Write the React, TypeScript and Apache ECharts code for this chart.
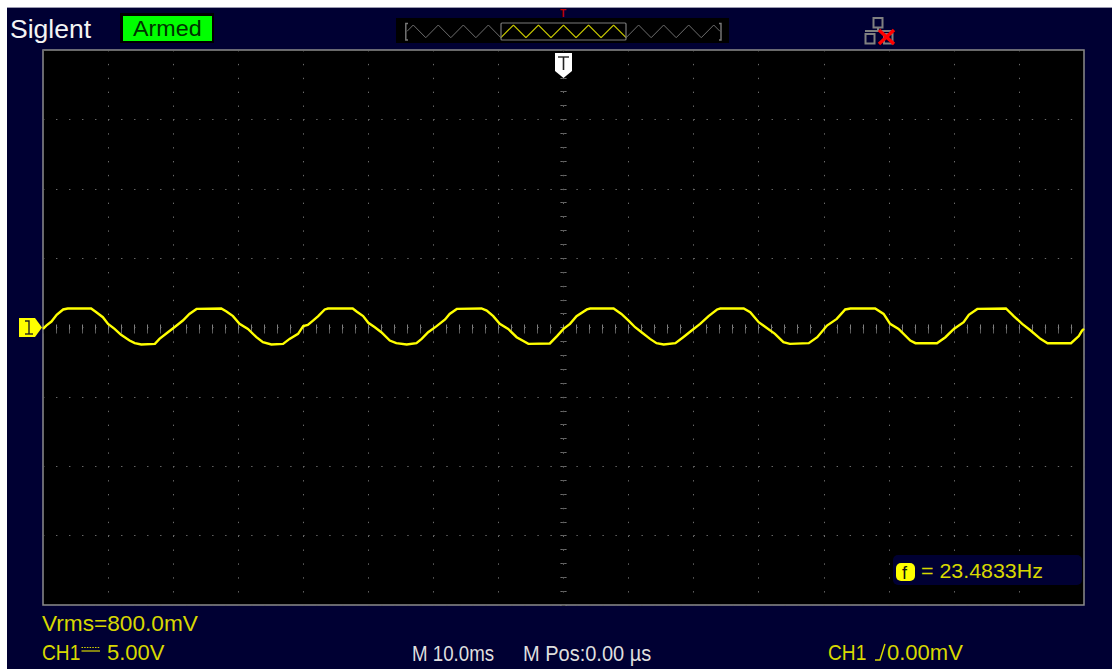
import React, { useEffect, useRef } from "react";
import * as echarts from "echarts";

// CH1 trace: time in ms (0 = trigger), amplitude in volts
const traceTimes = [
  -80, -79.5, -78.7, -77.9, -76.9, -76.2, -72.6, -71.8, -70.8, -70, -69, -68, -66.7, -65.9, -64.9, -62.8, -62.1,
  -60.8, -59.8, -58.5, -57.5, -56.4, -52.6, -51.8, -50.8, -49.8, -48.5, -47.2, -46.2, -44.9, -43.1, -42.1, -40.8, -40,
  -39.3, -38.5, -37.7, -36.7, -36.2, -32.4, -31.8, -30.8, -30, -29, -28, -26.7, -25.7, -24.1, -22.6, -21.8, -20.8,
  -19.5, -18.2, -17.5, -16.4, -12.6, -11.8, -10.8, -9.8, -8.5, -7.2, -5.4, -2.1, -1, 0,
  1, 2, 3.6, 4.1, 7.7, 8.9, 10, 11, 12, 13.3, 14.3, 15.4, 17.2, 18.4, 19.7, 21, 22.3, 23.6, 24.1, 27.7, 28.7, 30,
  31.3, 32.5, 33.8, 34.8, 37.7, 39, 40.5, 42, 43.3, 44.1, 47.9, 49.2, 50.2, 51.5, 53.3, 54.1, 57.4, 58.7, 60, 61.5,
  62.3, 63.6, 68, 69.2, 70.5, 71.8, 73.3, 74.4, 78, 79.2, 79.7, 80,
];
const traceVolts = [
  -0.1, 0.14, 0.43, 0.91, 1.3, 1.37, 1.37, 1.1, 0.74, 0.26, -0.1, -0.53, -0.94, -1.13, -1.22, -1.18, -0.82,
  -0.34, 0.02, 0.5, 0.98, 1.34, 1.37, 1.15, 0.82, 0.26, -0.1, -0.7, -1.06, -1.22, -1.18, -0.82, -0.46, 0.1,
  0.19, 0.5, 0.82, 1.3, 1.37, 1.37, 1.15, 0.82, 0.34, 0.02, -0.34, -0.94, -1.13, -1.22, -1.13, -0.82, -0.34,
  0.1, 0.58, 0.98, 1.34, 1.37, 1.22, 0.82, 0.26, -0.1, -0.7, -1.18, -1.15, -0.62, -0.1,
  0.26, 0.82, 1.3, 1.37, 1.37, 0.98, 0.5, 0.02, -0.34, -0.82, -1.13, -1.22, -1.13, -0.7, -0.22, 0.26, 0.82, 1.3, 1.37, 1.37, 1.1, 0.38,
  -0.05, -0.46, -1.06, -1.18, -1.13, -0.7, 0.14, 0.62, 1.3, 1.37, 1.37, 0.98, 0.26, -0.1, -0.94, -1.13, -1.13, -0.7, -0.1, 0.38,
  0.91, 1.34, 1.37, 0.82, 0.26, -0.22, -0.82, -1.13, -1.13, -0.62, -0.22, -0.1,
];

// Memory overview strip at the top: time in ms, normalised level
const overviewLeftTimes = [-200, -192, -176, -160, -144, -128, -112, -96, -80];
const overviewLeftLevels = [0.5, 1, 0, 1, 0, 1, 0, 1, 0];
const overviewMidTimes = [-80, -64, -48, -32, -16, 0, 16, 32, 48, 64, 80];
const overviewMidLevels = [0, 1, 0, 1, 0, 1, 0, 1, 0, 1, 0];
const overviewRightTimes = [80, 96, 112, 128, 144, 160, 176, 192, 200];
const overviewRightLevels = [0, 1, 0, 1, 0, 1, 0, 1, 0.5];

const brandLabel = "Siglent";
const statusLabel = "Armed";
const freqLabel = "= 23.4833Hz";
const vrmsLabel = "Vrms=800.0mV";
const channelLabel = "CH1";
const scaleLabel = "5.00V";
const timebaseLabel = "M 10.0ms";
const positionLabel = "M Pos:0.00 µs";
const triggerLevelLabel = "0.00mV";

const NAVY = "#000033";
const YELLOW = "#d8d800";
const GREY = "#808080";
const SANS = '"Liberation Sans", Arial, sans-serif';

const zip = (a: number[], b: number[]) => a.map((v, i) => [v, b[i]]);

function txt(text: string, x: number, y: number, size: number, fill: string, scaleX = 1, extra: any = {}) {
  return {
    type: "text",
    x,
    y,
    scaleX,
    z: 100,
    style: { text, x: 0, y: 0, fill, font: `${size}px ${SANS}`, verticalAlign: "middle", align: "left", ...extra },
  };
}
function rect(x: number, y: number, w: number, h: number, style: any, r = 0) {
  return { type: "rect", z: 90, shape: { x, y, width: w, height: h, r }, style };
}
function poly(points: number[][], style: any) {
  return { type: "polyline", z: 95, shape: { points }, style: { fill: "none", ...style } };
}

export default function App() {
  const ref = useRef<HTMLDivElement>(null);
  useEffect(() => {
    document.body.style.margin = "0";
    const chart = echarts.init(ref.current!, undefined, { renderer: "svg" });
    const scaleTick = (length: number, inside = true, color = GREY) => ({
      show: true,
      inside,
      length,
      lineStyle: { color, width: 1 },
    });
    const minorTick = (length: number, color = GREY) => ({
      show: true,
      splitNumber: 5,
      length,
      lineStyle: { color, width: 1 },
    });
    const xBase = { type: "value", min: -80, max: 80, interval: 10, gridIndex: 0, axisLabel: { show: false } };
    const yBase = { type: "value", min: -20, max: 20, interval: 5, gridIndex: 0, axisLabel: { show: false } };
    const hiddenAxis = { show: false, gridIndex: 1, type: "value" };
    const line = (name: string, x: number[], y: number[], color: string, w: number, xi: number, yi: number, z = 3) => ({
      type: "line",
      name,
      data: zip(x, y),
      xAxisIndex: xi,
      yAxisIndex: yi,
      showSymbol: false,
      symbol: "none",
      z,
      lineStyle: { color, width: w, join: "miter" },
      silent: true,
    });
    chart.setOption({
      animation: false,
      backgroundColor: "transparent",
      grid: [
        { left: 43, right: 28, top: 50, height: 555, show: true, backgroundColor: "#000", borderColor: "#8c8c8c", borderWidth: 1.5 },
        { left: 407, width: 313, top: 25, height: 12.7 },
      ],
      xAxis: [
        {
          ...xBase,
          position: "bottom",
          axisLine: { show: false },
          axisTick: scaleTick(3),
          minorTick: minorTick(3),
          splitLine: { show: true, lineStyle: { color: "#6a6a6a", width: 1, type: [1.4, 12.475] } },
        },
        { ...xBase, position: "top", axisLine: { show: false }, axisTick: scaleTick(3), minorTick: minorTick(3), splitLine: { show: false } },
        { ...xBase, position: "bottom", offset: -279.5, axisLine: { show: false }, axisTick: scaleTick(4, false, "#5c5c5c"), minorTick: minorTick(4, "#5c5c5c"), splitLine: { show: false } },
        { ...hiddenAxis, min: -200, max: 200 },
      ],
      yAxis: [
        {
          ...yBase,
          position: "left",
          axisLine: { show: false },
          axisTick: scaleTick(3),
          minorTick: minorTick(3),
          splitLine: { show: true, lineStyle: { color: "#6a6a6a", width: 1, type: [1.4, 11.61] } },
        },
        { ...yBase, position: "right", axisLine: { show: false }, axisTick: scaleTick(3), minorTick: minorTick(3), splitLine: { show: false } },
        { ...yBase, position: "left", offset: -522.5, axisLine: { show: false }, axisTick: scaleTick(4, false, "#5c5c5c"), minorTick: minorTick(4, "#5c5c5c"), splitLine: { show: false } },
        { ...hiddenAxis, min: 0, max: 1 },
      ],
      series: [
        line("CH1", traceTimes, traceVolts, "#ffff00", 2.4, 0, 0, 5),
        line("overview-left", overviewLeftTimes, overviewLeftLevels, "#6e6e6e", 1, 3, 3),
        line("overview-window", overviewMidTimes, overviewMidLevels, "#c8c800", 1.2, 3, 3, 4),
        line("overview-right", overviewRightTimes, overviewRightLevels, "#6e6e6e", 1, 3, 3),
      ],
      graphic: [
        // header
        txt(brandLabel, 10, 29, 26, "#f4f4f4", 1.02),
        rect(120, 13, 94, 30, { fill: "#000" }),
        rect(123, 16, 89, 25, { fill: "#00ff00" }),
        txt(statusLabel, 133, 28.5, 22, "#003300", 1.06),
        { ...rect(396, 18, 333, 25, { fill: "#000" }), z: -1 },
        rect(501, 23, 125, 17, { fill: "none", stroke: "#7a7a7a", lineWidth: 1.2 }, 1),
        poly([[408, 23.5], [405.8, 23.5], [405.8, 40], [408, 40]], { stroke: "#7a7a7a", lineWidth: 1.4 }),
        poly([[719, 23.5], [721, 23.5], [721, 40], [719, 40]], { stroke: "#7a7a7a", lineWidth: 1.4 }),
        { ...txt("T", 560, 13.5, 10, "#c00000"), style: { text: "T", x: 0, y: 0, fill: "#c00000", font: `bold 10px ${SANS}`, verticalAlign: "middle" } },
        // network icon
        rect(873.5, 18, 9, 9.5, { fill: "none", stroke: GREY, lineWidth: 2 }),
        rect(865.5, 34, 9, 9.5, { fill: "none", stroke: GREY, lineWidth: 2 }),
        rect(884, 34, 8.5, 9.5, { fill: "none", stroke: GREY, lineWidth: 2 }),
        poly([[865, 31], [893, 31]], { stroke: GREY, lineWidth: 2 }),
        poly([[878, 28], [878, 31]], { stroke: GREY, lineWidth: 2 }),
        poly([[879, 30], [894, 44]], { stroke: "#ff0000", lineWidth: 3.4 }),
        poly([[894, 30], [879, 44]], { stroke: "#ff0000", lineWidth: 3.4 }),
        // trigger position pointer
        { type: "polygon", z: 90, shape: { points: [[555, 53], [572, 53], [572, 71], [563.5, 78], [555, 71]] }, style: { fill: "#ffffff" } },
        poly([[558, 57], [569, 57]], { stroke: "#222", lineWidth: 1.4 }),
        poly([[563.5, 57], [563.5, 70]], { stroke: "#222", lineWidth: 1.6 }),
        // channel pointer
        { type: "polygon", z: 90, shape: { points: [[19, 318], [35, 318], [42, 327.5], [35, 337], [19, 337]] }, style: { fill: "#ffff00" } },
        poly([[25, 321], [29, 321], [29, 334]], { stroke: "#222", lineWidth: 1.4 }),
        poly([[25, 334], [33, 334]], { stroke: "#222", lineWidth: 1.4 }),
        // frequency box
        rect(893, 555, 189, 30, { fill: NAVY }, 5),
        rect(896, 563, 19, 18, { fill: "#ffff00" }, 5),
        { ...txt("f", 902, 573, 18, "#111"), z: 101 },
        txt(freqLabel, 921, 571, 20, YELLOW, 1.07),
        // footer
        txt(vrmsLabel, 42, 624, 22, YELLOW, 1.03),
        txt(channelLabel, 42, 652, 22, YELLOW, 0.87),
        poly([[81.5, 647.5], [100, 647.5]], { stroke: YELLOW, lineWidth: 1, lineDash: [1.5, 1.2] }),
        poly([[81.5, 651], [100, 651]], { stroke: YELLOW, lineWidth: 1.2 }),
        txt(scaleLabel, 107, 652, 22, YELLOW),
        txt(timebaseLabel, 412, 653, 22, "#dedede", 0.85),
        txt(positionLabel, 523, 653, 22, "#dedede", 0.91),
        txt(channelLabel, 828, 652, 22, YELLOW, 0.87),
        poly([[875, 660], [880, 660], [885, 644]], { stroke: YELLOW, lineWidth: 1.5 }),
        txt(triggerLevelLabel, 887, 652, 22, YELLOW),
      ],
    });
    return () => chart.dispose();
  }, []);
  return (
    <div style={{ position: "relative", width: 1112, height: 669, background: "#fff", overflow: "hidden" }}>
      <div style={{ position: "absolute", left: 7, top: 7, right: 0, bottom: 0, background: NAVY, borderTop: "1px solid #9a9ab0" }} />
      <div ref={ref} style={{ position: "absolute", left: 0, top: 0, width: 1112, height: 669 }} />
    </div>
  );
}
